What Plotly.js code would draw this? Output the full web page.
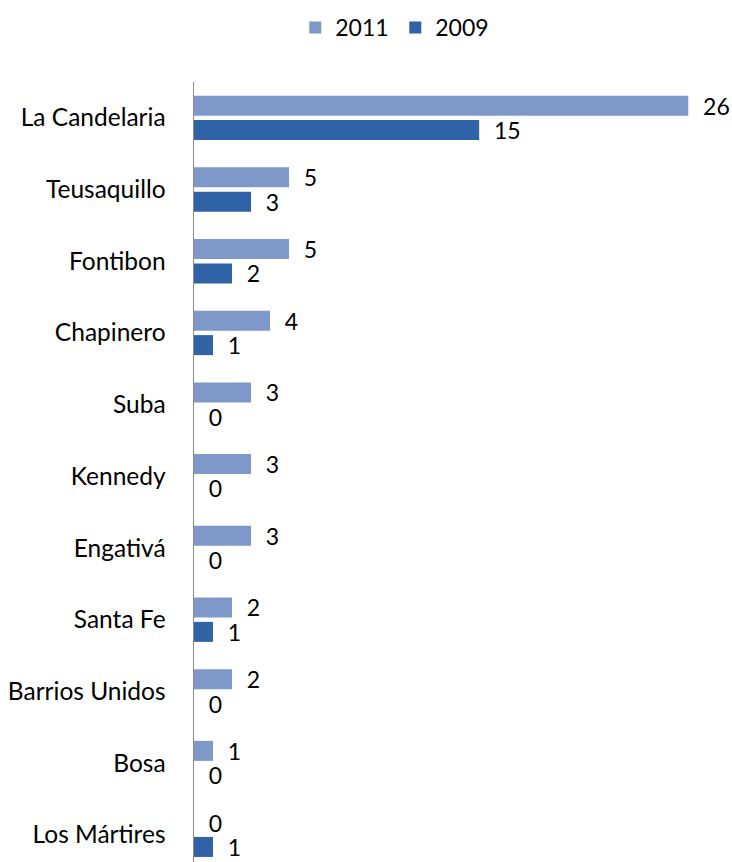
<!DOCTYPE html>
<html>
<head>
<meta charset="utf-8">
<script src="https://cdn.plot.ly/plotly-3.0.1.min.js"></script>
<style>
  html, body { margin: 0; padding: 0; background: #fff; }
  #chart { width: 732px; height: 862px; }
</style>
</head>
<body>
<div id="chart"></div>
<script>
// Localities, top to bottom
const localidades = ['La Candelaria', 'Teusaquillo', 'Fontibon', 'Chapinero', 'Suba', 'Kennedy',
    'Engativá', 'Santa Fe', 'Barrios Unidos', 'Bosa', 'Los Mártires'];
const values2011 = [26, 5, 5, 4, 3, 3, 3, 2, 2, 1, 0];
const values2009 = [15, 3, 2, 1, 0, 0, 0, 1, 0, 0, 1];
const seriesNames = ['2011', '2009'];

const labelFont = { family: 'Lato, "Open Sans", sans-serif', size: 23, color: '#000' };

// leading no-break spaces push the value labels away from the bar ends
const padLabel = v => '\u00A0\u00A0' + v;

const trace2011 = {
    y: localidades,
    x: values2011,
    type: 'bar',
    orientation: 'h',
    name: seriesNames[0],
    marker: { color: '#7d98c9', line: { width: 0 } },
    text: values2011.map(padLabel),
    textposition: 'outside',
    textfont: labelFont,
    constraintext: 'none',
    cliponaxis: false,
    hoverinfo: 'none'
};

const trace2009 = {
    y: localidades,
    x: values2009,
    type: 'bar',
    orientation: 'h',
    name: seriesNames[1],
    marker: { color: '#2f62a6', line: { width: 0 } },
    text: values2009.map(padLabel),
    textposition: 'outside',
    textfont: labelFont,
    constraintext: 'none',
    cliponaxis: false,
    hoverinfo: 'none'
};

const layout = {
    width: 732,
    height: 862,
    font: labelFont,
    paper_bgcolor: '#fff',
    plot_bgcolor: '#fff',
    barmode: 'group',
    bargap: 0.32,
    bargroupgap: 0.18,
    showlegend: true,
    legend: {
        orientation: 'h',
        x: 0.54,
        xref: 'container',
        xanchor: 'center',
        y: 0.993,
        yanchor: 'top',
        yref: 'container',
        font: labelFont,
        itemwidth: 30,
        entrywidth: 55
    },
    xaxis: {
        range: [0, 28.3],
        showgrid: false,
        zeroline: false,
        showticklabels: false,
        showline: false,
        ticks: ''
    },
    yaxis: {
        type: 'category',
        range: [10.38, -0.5],
        showgrid: false,
        zeroline: false,
        showline: true,
        linecolor: '#8c8c8c',
        linewidth: 1.5,
        ticks: '',
        ticklabelstandoff: 22,
        tickfont: Object.assign({}, labelFont, { size: 24.5 })
    },
    margin: { l: 194, r: 0, t: 82, b: 0 }
};

Plotly.newPlot('chart', [trace2011, trace2009], layout, { displayModeBar: false, staticPlot: true });
</script>
</body>
</html>
